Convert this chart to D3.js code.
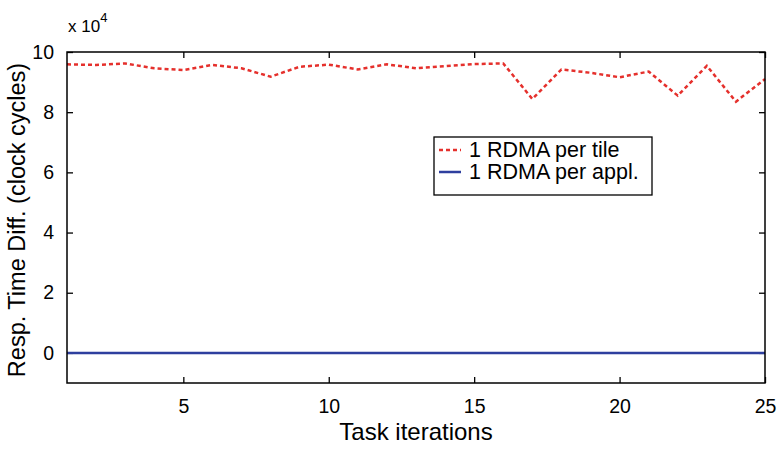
<!DOCTYPE html>
<meta charset="utf-8">
<html lang="en">
<head>
<title>Response time difference</title>
<script src="https://d3js.org/d3.v7.min.js"></script>
<style>
  body { margin: 0; background: #fff; }
  text { font-family: "Liberation Sans", Arial, sans-serif; fill: #000; }
</style>
</head>
<body>
<div id="chart"></div>
<script>

// data
var iterations = d3.range(1, 26);
var perTile = [95900, 95700, 96200, 94600, 94000, 95700, 94600, 91800, 95100, 95800,
               94200, 95900, 94600, 95300, 96000, 96200, 84400, 94200, 93100, 91600,
               93500, 85500, 95400, 83500, 91000];
var perAppl = iterations.map(function() { return 0; });
var xTicks = [5, 10, 15, 20, 25];
var yTicks = [0, 20000, 40000, 60000, 80000, 100000];
var seriesNames = ["1 RDMA per tile", "1 RDMA per appl."];

var W = 778, H = 449;
var margin = {top: 52, right: 13, bottom: 66, left: 67},
    width = W - margin.left - margin.right,
    height = H - margin.top - margin.bottom;

var svg = d3.select("#chart")
  .append("svg")
    .attr("width", W)
    .attr("height", H)
  .append("g")
    .attr("transform", "translate(" + margin.left + "," + margin.top + ")");

var x = d3.scaleLinear().domain([1, 25]).range([0, width]);
var y = d3.scaleLinear().domain([-10000, 100000]).range([height, 0]);

// axes, ticks pointing inward on all four sides
function styleAxis(g) {
  g.select(".domain").remove();
  g.selectAll(".tick line").attr("stroke", "#000").attr("stroke-width", 1.3);
  g.selectAll(".tick text").style("font-size", "19.5px").style("font-family", "Liberation Sans, Arial, sans-serif");
}

svg.append("g")
  .attr("transform", "translate(0," + height + ")")
  .call(d3.axisBottom(x).tickValues(xTicks).tickSizeInner(-6).tickSizeOuter(0).tickPadding(16))
  .call(styleAxis);

svg.append("g")
  .call(d3.axisTop(x).tickValues(xTicks).tickSizeInner(-6).tickSizeOuter(0).tickFormat(""))
  .call(styleAxis);

svg.append("g")
  .call(d3.axisLeft(y).tickValues(yTicks).tickSizeInner(-6).tickSizeOuter(0).tickPadding(13)
    .tickFormat(function(d) { return d / 10000; }))
  .call(styleAxis);

svg.append("g")
  .attr("transform", "translate(" + width + ",0)")
  .call(d3.axisRight(y).tickValues(yTicks).tickSizeInner(-6).tickSizeOuter(0).tickFormat(""))
  .call(styleAxis);

// lines
var line = d3.line()
  .x(function(d, i) { return x(iterations[i]); })
  .y(function(d) { return y(d); });

svg.append("path")
  .datum(perAppl)
  .attr("fill", "none")
  .attr("stroke", "#2e3f9e")
  .attr("stroke-width", 2.5)
  .attr("d", line);

svg.append("path")
  .datum(perTile)
  .attr("fill", "none")
  .attr("stroke", "#e5302c")
  .attr("stroke-width", 2.5)
  .attr("stroke-dasharray", "4,3")
  .attr("d", line);

// frame
svg.append("rect")
  .attr("width", width)
  .attr("height", height)
  .attr("fill", "none")
  .attr("stroke", "#000")
  .attr("stroke-width", 1.5);

// exponent label
svg.append("text")
  .attr("x", 1)
  .attr("y", -20)
  .style("font-size", "17px")
  .text("x 10")
  .append("tspan")
    .attr("dy", -10)
    .style("font-size", "13px")
    .text("4");

// axis labels
svg.append("text")
  .attr("x", width / 2)
  .attr("y", height + 57)
  .style("text-anchor", "middle")
  .style("font-size", "24px")
  .text("Task iterations");

svg.append("text")
  .attr("transform", "rotate(-90)")
  .attr("x", -168)
  .attr("y", -42)
  .style("text-anchor", "middle")
  .style("font-size", "23.5px")
  .text("Resp. Time Diff. (clock cycles)");

// legend
var legend = svg.append("g")
  .attr("transform", "translate(" + (434 - margin.left) + "," + (137 - margin.top) + ")");

legend.append("rect")
  .attr("width", 218)
  .attr("height", 58)
  .attr("fill", "#fff")
  .attr("stroke", "#000")
  .attr("stroke-width", 1.3);

var legStyles = [
  {stroke: "#e5302c", dash: "4,3"},
  {stroke: "#2e3f9e", dash: null}
];

seriesNames.forEach(function(name, i) {
  var yy = 13 + i * 22;
  legend.append("line")
    .attr("x1", 5).attr("x2", 27)
    .attr("y1", yy).attr("y2", yy)
    .attr("stroke", legStyles[i].stroke)
    .attr("stroke-width", 2.5)
    .attr("stroke-dasharray", legStyles[i].dash);
  legend.append("text")
    .attr("x", 35)
    .attr("y", yy + 7)
    .style("font-size", "21.5px")
    .text(name);
});

</script>
</body>
</html>
